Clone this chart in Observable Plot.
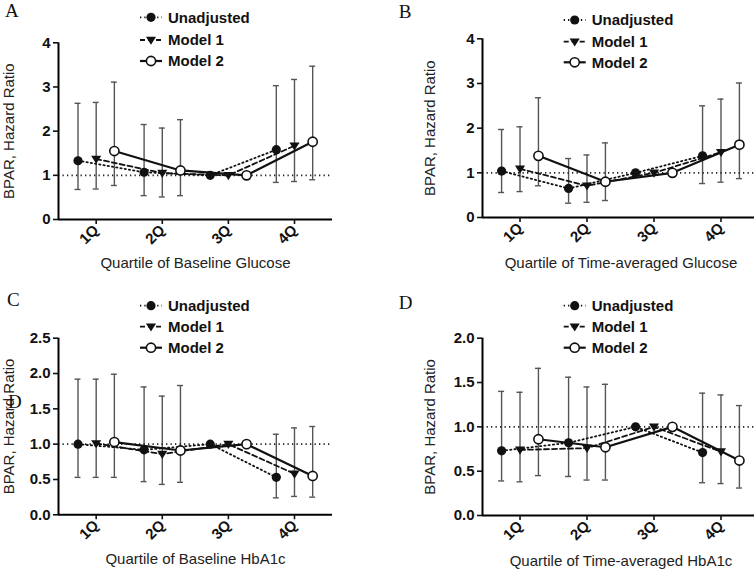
<!DOCTYPE html>
<html><head><meta charset="utf-8">
<script src="https://cdn.jsdelivr.net/npm/d3@7"></script>
<script src="https://cdn.jsdelivr.net/npm/@observablehq/plot@0.6"></script>
<style>
html,body{margin:0;padding:0;background:#fff;}
#root{position:relative;width:754px;height:569px;overflow:hidden;background:#fff;}
#root svg{position:absolute;overflow:visible;}
</style></head><body><div id="root"></div>
<script>
// ---------- data ----------
const quartiles = ["1Q", "2Q", "3Q", "4Q"];
const seriesNames = ["Unadjusted", "Model 1", "Model 2"];

// Panel A: Baseline Glucose
const aUnadj = [1.33, 1.07, 1.00, 1.58];
const aUnadjLo = [0.68, 0.54, null, 0.84];
const aUnadjHi = [2.63, 2.15, null, 3.03];
const aM1 = [1.37, 1.05, 1.00, 1.67];
const aM1Lo = [0.69, 0.51, null, 0.86];
const aM1Hi = [2.65, 2.07, null, 3.17];
const aM2 = [1.55, 1.11, 1.00, 1.76];
const aM2Lo = [0.77, 0.54, null, 0.90];
const aM2Hi = [3.11, 2.26, null, 3.47];

// Panel B: Time-averaged Glucose
const bUnadj = [1.04, 0.65, 1.00, 1.38];
const bUnadjLo = [0.56, 0.32, null, 0.76];
const bUnadjHi = [1.97, 1.32, null, 2.50];
const bM1 = [1.09, 0.71, 1.00, 1.46];
const bM1Lo = [0.58, 0.34, null, 0.79];
const bM1Hi = [2.03, 1.40, null, 2.65];
const bM2 = [1.38, 0.80, 1.00, 1.63];
const bM2Lo = [0.71, 0.38, null, 0.87];
const bM2Hi = [2.68, 1.67, null, 3.01];

// Panel C: Baseline HbA1c
const cUnadj = [1.00, 0.92, 1.00, 0.53];
const cUnadjLo = [0.53, 0.47, null, 0.24];
const cUnadjHi = [1.92, 1.81, null, 1.14];
const cM1 = [1.01, 0.86, 1.00, 0.58];
const cM1Lo = [0.53, 0.43, null, 0.26];
const cM1Hi = [1.92, 1.68, null, 1.23];
const cM2 = [1.03, 0.91, 1.00, 0.55];
const cM2Lo = [0.53, 0.46, null, 0.25];
const cM2Hi = [1.99, 1.83, null, 1.25];

// Panel D: Time-averaged HbA1c
const dUnadj = [0.73, 0.82, 1.00, 0.71];
const dUnadjLo = [0.39, 0.44, null, 0.37];
const dUnadjHi = [1.40, 1.56, null, 1.38];
const dM1 = [0.74, 0.76, 1.00, 0.72];
const dM1Lo = [0.38, 0.40, null, 0.36];
const dM1Hi = [1.39, 1.45, null, 1.36];
const dM2 = [0.86, 0.77, 1.00, 0.62];
const dM2Lo = [0.45, 0.40, null, 0.31];
const dM2Hi = [1.66, 1.48, null, 1.24];

const yTicksGlucose = [0, 1, 2, 3, 4];
const yTicksC = [0, 0.5, 1.0, 1.5, 2.0, 2.5];
const yTicksD = [0, 0.5, 1.0, 1.5, 2.0];
const yLabel = "BPAR, Hazard Ratio";

// ---------- drawing ----------
const root = document.getElementById("root");
const offsets = [-0.275, 0, 0.275];
const dashes = ["1.3,3", "5,3", null];

const triDown = {
  draw(ctx, size) {
    const r = Math.sqrt(size / Math.PI);
    ctx.moveTo(-1.15 * r, -0.75 * r);
    ctx.lineTo(1.15 * r, -0.75 * r);
    ctx.lineTo(0, 1.1 * r);
    ctx.closePath();
  }
};

function buildRows(vals, los, his) {
  const rows = [];
  seriesNames.forEach((s, si) => {
    quartiles.forEach((q, qi) => {
      rows.push({series: s, si, x: qi + 1 + offsets[si], y: vals[si][qi], lo: los[si][qi], hi: his[si][qi]});
    });
  });
  return rows;
}

function dotMark(data, si) {
  if (si === 0) return Plot.dot(data, {x: "x", y: "y", r: 4.6, fill: "#111", stroke: "none", symbol: "circle"});
  if (si === 1) return Plot.dot(data, {x: "x", y: "y", r: 4.4, fill: "#111", stroke: "none", symbol: triDown});
  return Plot.dot(data, {x: "x", y: "y", r: 4.6, fill: "white", stroke: "#111", strokeWidth: 1.6, symbol: "circle"});
}

function panel(o) {
  const rows = buildRows(o.vals, o.los, o.his);
  const err = rows.filter(d => d.lo != null);
  const eb = {stroke: "#555", strokeWidth: 1.4};
  const marks = [
    Plot.ruleX(err, {x: "x", y1: "lo", y2: "hi", ...eb}),
    Plot.ruleY(err, {y: "lo", x1: d => d.x - 0.045, x2: d => d.x + 0.045, ...eb}),
    Plot.ruleY(err, {y: "hi", x1: d => d.x - 0.045, x2: d => d.x + 0.045, ...eb}),
    Plot.ruleY([1], {stroke: "#222", strokeWidth: 1.6, strokeDasharray: "1.3,3.2"})
  ];
  seriesNames.forEach((s, si) => {
    const d = rows.filter(r => r.si === si);
    marks.push(Plot.line(d, {x: "x", y: "y", stroke: "#111", strokeWidth: si === 2 ? 2.2 : 1.8, strokeDasharray: dashes[si]}));
  });
  seriesNames.forEach((s, si) => marks.push(dotMark(rows.filter(r => r.si === si), si)));
  marks.push(
    Plot.ruleY([o.ydom[0]], {stroke: "#000", strokeWidth: 2}),
    Plot.ruleX([o.xdom[0]], {stroke: "#000", strokeWidth: 2}),
    Plot.axisX({ticks: [1, 2, 3, 4], tickFormat: d => quartiles[d - 1], tickRotate: -45, tickSize: 5, tickPadding: 3, label: null, strokeWidth: 1.6}),
    Plot.axisY({ticks: o.yticks, tickFormat: o.yfmt, tickSize: 5, tickPadding: 3, label: null, strokeWidth: 1.6}),
    Plot.text([o.xlabel], {text: d => d, frameAnchor: "bottom", textAnchor: "middle", lineAnchor: "middle", dy: o.xlabelDy, fontSize: 15, fontWeight: "normal", fill: "#222"}),
    Plot.text([yLabel], {text: d => d, frameAnchor: "left", textAnchor: "middle", lineAnchor: "middle", rotate: -90, dx: o.ylabelDx, fontSize: 15, fontWeight: "normal", fill: "#222"})
  );
  const svg = Plot.plot({
    width: o.width, height: o.height,
    marginTop: o.mt, marginBottom: o.mb, marginLeft: o.ml, marginRight: o.mr,
    x: {type: "linear", domain: o.xdom},
    y: {type: "linear", domain: o.ydom},
    style: {fontFamily: "'Liberation Sans', Arial, sans-serif", fontSize: "15px", fontWeight: "bold", color: "#111", background: "transparent", overflow: "visible"},
    marks
  });
  svg.style.left = o.left + "px";
  svg.style.top = o.top + "px";
  const g = d3.select(svg).append("g").attr("text-anchor", "start");
  // legend
  seriesNames.forEach((s, si) => {
    const y = o.legendY[si];
    const x0 = o.legendX;
    g.append("line").attr("x1", x0).attr("x2", x0 + 22).attr("y1", y).attr("y2", y)
      .attr("stroke", "#111").attr("stroke-width", si === 2 ? 2.2 : 1.8)
      .attr("stroke-dasharray", dashes[si]);
    const sym = si === 1 ? triDown : d3.symbolCircle;
    const size = Math.PI * (si === 1 ? 4.4 : 4.6) ** 2;
    g.append("path").attr("d", d3.symbol(sym, size)()).attr("transform", `translate(${x0 + 11},${y})`)
      .attr("fill", si === 2 ? "white" : "#111").attr("stroke", si === 2 ? "#111" : "none").attr("stroke-width", 1.6);
    g.append("text").attr("x", x0 + 28).attr("y", y).attr("dy", "0.36em").attr("text-anchor", "start")
      .attr("font-family", "'Liberation Sans', Arial, sans-serif").attr("font-size", 15).attr("font-weight", "bold").attr("fill", "#111")
      .text(s);
  });
  o.letters.forEach(l => {
    g.append("text").attr("x", l.x).attr("y", l.y).attr("text-anchor", "start")
      .attr("font-family", "'Liberation Serif', 'Times New Roman', serif").attr("font-size", 19).attr("font-weight", "normal").attr("fill", "#111")
      .text(l.t);
  });
  root.appendChild(svg);
}

const xdomLeft = [0.43, 4.575];
const xdomRight = [0.44, 4.575];

panel({left: 0, top: 0, width: 377, height: 290, mt: 42.3, mb: 71, ml: 58, mr: 45,
  xdom: xdomLeft, ydom: [0, 4], yticks: yTicksGlucose, yfmt: d3.format("d"),
  vals: [aUnadj, aM1, aM2], los: [aUnadjLo, aM1Lo, aM2Lo], his: [aUnadjHi, aM1Hi, aM2Hi],
  xlabel: "Quartile of Baseline Glucose", xlabelDy: 43.5, ylabelDx: -49.7,
  legendX: 140, legendY: [17.3, 40, 61], letters: [{t: "A", x: 5, y: 17}]});

panel({left: 377, top: 0, width: 392, height: 290, mt: 38.3, mb: 73, ml: 105, mr: 10,
  xdom: xdomRight, ydom: [0, 4], yticks: yTicksGlucose, yfmt: d3.format("d"),
  vals: [bUnadj, bM1, bM2], los: [bUnadjLo, bM1Lo, bM2Lo], his: [bUnadjHi, bM1Hi, bM2Hi],
  xlabel: "Quartile of Time-averaged Glucose", xlabelDy: 46, ylabelDx: -52.5,
  legendX: 186.7, legendY: [20, 41.7, 62.3], letters: [{t: "B", x: 21.7, y: 17.5}]});

panel({left: 0, top: 290, width: 377, height: 279, mt: 47.7, mb: 54.7, ml: 58, mr: 45,
  xdom: xdomLeft, ydom: [0, 2.5], yticks: yTicksC, yfmt: d3.format(".1f"),
  vals: [cUnadj, cM1, cM2], los: [cUnadjLo, cM1Lo, cM2Lo], his: [cUnadjHi, cM1Hi, cM2Hi],
  xlabel: "Quartile of Baseline HbA1c", xlabelDy: 44.8, ylabelDx: -49.7,
  legendX: 140, legendY: [15.7, 36.7, 57.7], letters: [{t: "C", x: 7, y: 16}, {t: "D", x: 8, y: 118.3}]});

panel({left: 377, top: 290, width: 392, height: 279, mt: 47.7, mb: 54, ml: 105, mr: 10,
  xdom: xdomRight, ydom: [0, 2], yticks: yTicksD, yfmt: d3.format(".1f"),
  vals: [dUnadj, dM1, dM2], los: [dUnadjLo, dM1Lo, dM2Lo], his: [dUnadjHi, dM1Hi, dM2Hi],
  xlabel: "Quartile of Time-averaged HbA1c", xlabelDy: 46, ylabelDx: -52.5,
  legendX: 186.7, legendY: [15.7, 36.7, 57.7], letters: [{t: "D", x: 21.7, y: 19}]});
</script>
</body></html>
